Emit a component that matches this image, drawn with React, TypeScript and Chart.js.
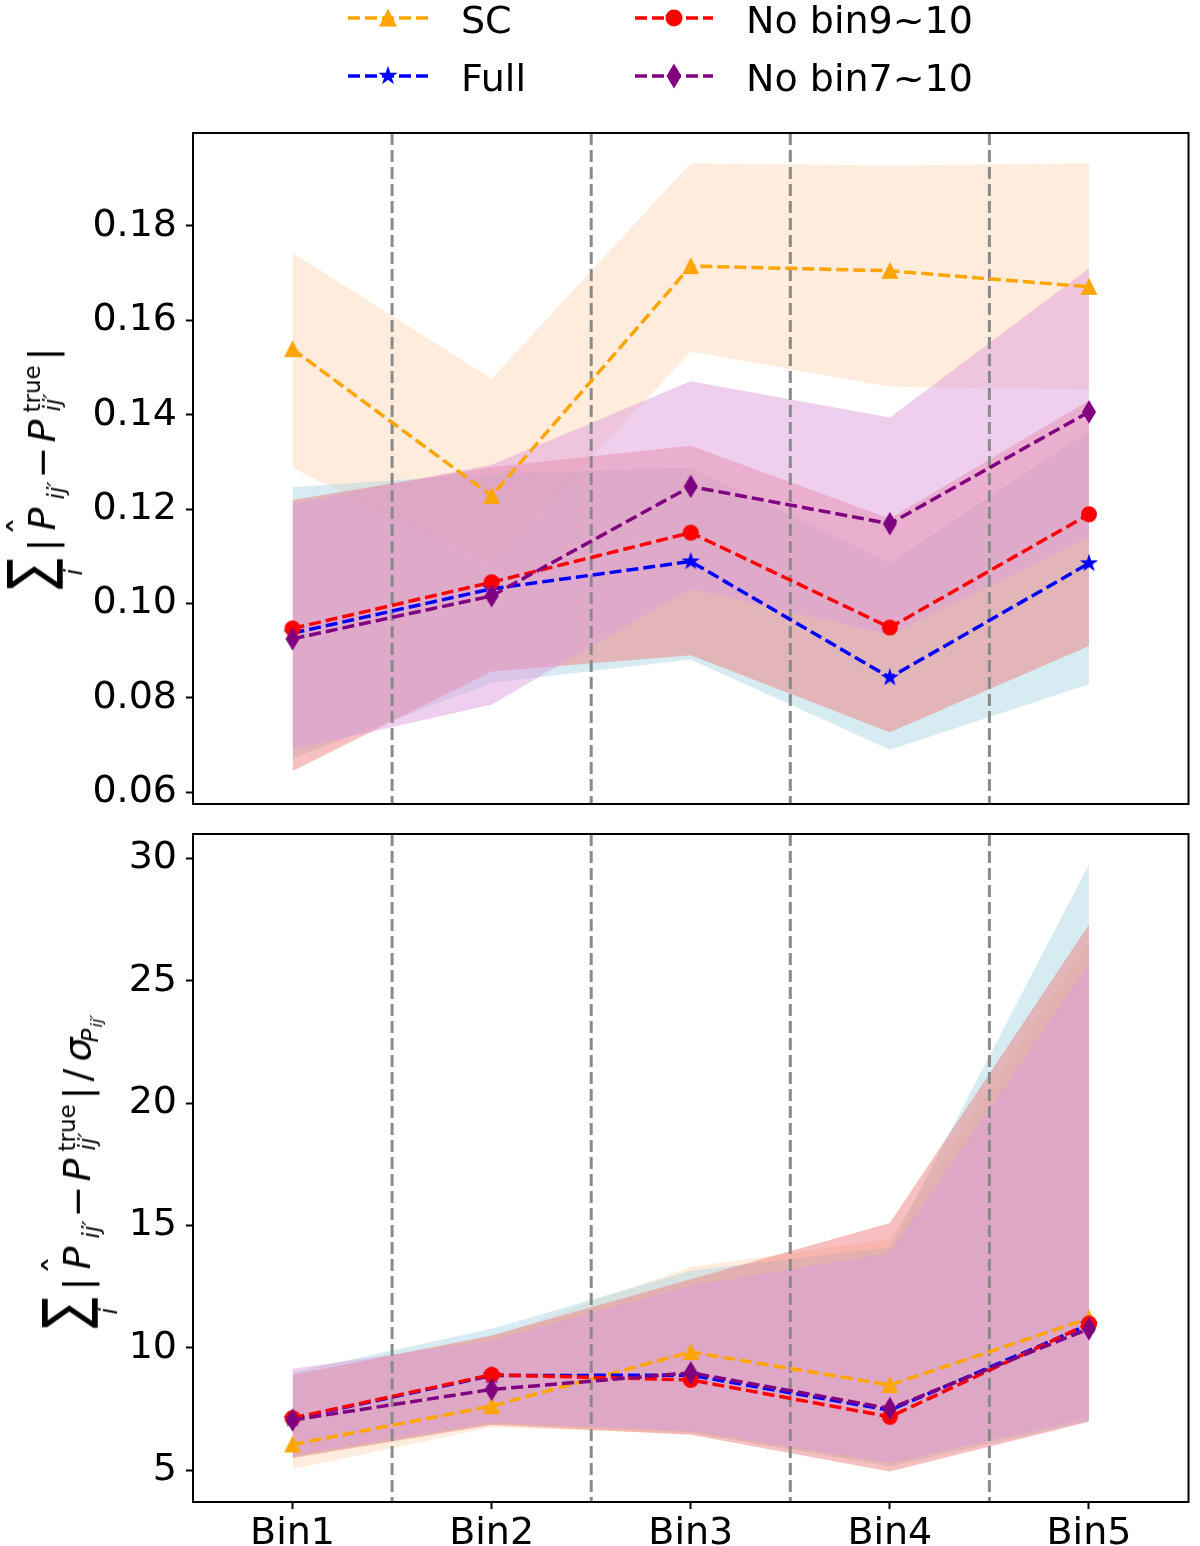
import React, { useEffect, useRef } from "react";
import { Chart, registerables } from "chart.js";

Chart.register(...registerables);

// ---------------- data ----------------
const categories = ["Bin1", "Bin2", "Bin3", "Bin4", "Bin5"];
const seriesNames = ["SC", "Full", "No bin9~10", "No bin7~10"];

// top panel: sum |P_hat - P_true|
const topSC = [0.1539, 0.1228, 0.1715, 0.1705, 0.1671];
const topSCUpper = [0.1743, 0.1476, 0.1933, 0.1928, 0.1933];
const topSCLower = [0.1287, 0.108, 0.1534, 0.1459, 0.1453];
const topFull = [0.0937, 0.1031, 0.1089, 0.0843, 0.1085];
const topFullUpper = [0.1246, 0.1275, 0.1288, 0.1086, 0.1366];
const topFullLower = [0.0672, 0.0832, 0.0881, 0.069, 0.0829];
const topNo910 = [0.0947, 0.1045, 0.115, 0.0949, 0.1189];
const topNo910Upper = [0.1219, 0.1289, 0.1334, 0.118, 0.143];
const topNo910Lower = [0.0645, 0.0856, 0.089, 0.0727, 0.091];
const topNo710 = [0.0925, 0.1016, 0.1248, 0.1169, 0.1406];
const topNo710Upper = [0.1212, 0.1294, 0.1471, 0.1394, 0.171];
const topNo710Lower = [0.069, 0.0786, 0.1031, 0.0933, 0.114];

// bottom panel: sum |P_hat - P_true| / sigma
const botSC = [6.05, 7.62, 9.83, 8.48, 11.2];
const botSCUpper = [8.9, 10.45, 13.3, 14.45, 26.6];
const botSCLower = [5.05, 6.75, 6.5, 5.25, 7.2];
const botFull = [7.1, 8.87, 8.88, 7.45, 10.95];
const botFullUpper = [9.0, 10.78, 13.15, 14.1, 29.75];
const botFullLower = [5.55, 6.9, 6.55, 5.15, 7.0];
const botNo910 = [7.13, 8.9, 8.69, 7.18, 10.99];
const botNo910Upper = [8.9, 10.5, 12.8, 15.1, 27.3];
const botNo910Lower = [5.5, 6.85, 6.45, 4.95, 6.98];
const botNo710 = [7.05, 8.3, 8.98, 7.52, 10.78];
const botNo710Upper = [9.15, 10.3, 12.55, 13.88, 25.7];
const botNo710Lower = [5.6, 6.95, 6.6, 5.3, 7.1];

const topYTicks = [0.06, 0.08, 0.1, 0.12, 0.14, 0.16, 0.18];
const botYTicks = [5, 10, 15, 20, 25, 30];
const topYMin = 0.0575;
const topYMax = 0.1997;
const botYMin = 3.7;
const botYMax = 31.0;

// ---------------- styles ----------------
const lineColors = ["orange", "blue", "red", "purple"];
const fillColors = [
  "rgba(255,218,185,0.5)",
  "rgba(173,216,230,0.5)",
  "rgba(240,128,128,0.5)",
  "rgba(221,160,221,0.5)",
];
const markerKinds = ["triangle", "star", "circle", "thinDiamond"];
const MARKER_SIZE = 14.5;
const FONT = "DejaVu Sans";

function markerPoints(kind: string, cx: number, cy: number, s: number): number[][] | null {
  if (kind === "triangle") {
    return [
      [cx, cy - s / 2],
      [cx - s / 2, cy + s / 2],
      [cx + s / 2, cy + s / 2],
    ];
  }
  if (kind === "star") {
    const pts: number[][] = [];
    const R = s / 2;
    const r = R * 0.381966;
    for (let k = 0; k < 10; k++) {
      const a = -Math.PI / 2 + (k * Math.PI) / 5;
      const rad = k % 2 ? r : R;
      pts.push([cx + rad * Math.cos(a), cy + rad * Math.sin(a)]);
    }
    return pts;
  }
  if (kind === "thinDiamond") {
    const h = s * 0.7071;
    const w = h * 0.6;
    return [
      [cx, cy - h],
      [cx + w, cy],
      [cx, cy + h],
      [cx - w, cy],
    ];
  }
  return null;
}

function makeMarker(kind: string, color: string, s: number) {
  const c = document.createElement("canvas");
  const dim = Math.ceil(s * 1.6) + 4;
  c.width = dim;
  c.height = dim;
  const ctx = c.getContext("2d")!;
  const cx = dim / 2;
  const cy = dim / 2;
  ctx.fillStyle = color;
  ctx.strokeStyle = color;
  ctx.lineWidth = 1.5;
  ctx.beginPath();
  const pts = markerPoints(kind, cx, cy, s);
  if (pts) {
    pts.forEach((p, i) => (i === 0 ? ctx.moveTo(p[0], p[1]) : ctx.lineTo(p[0], p[1])));
    ctx.closePath();
  } else {
    ctx.arc(cx, cy, s / 2, 0, Math.PI * 2);
  }
  ctx.fill();
  ctx.stroke();
  return c;
}

function buildDatasets(lines: number[][], uppers: number[][], lowers: number[][], markers: HTMLCanvasElement[]) {
  const ds: any[] = [];
  for (let i = 0; i < 4; i++) {
    ds.push({
      data: lowers[i],
      borderWidth: 0,
      borderColor: "rgba(0,0,0,0)",
      pointRadius: 0,
      fill: false,
      tension: 0,
      order: 10 - i,
    });
    ds.push({
      data: uppers[i],
      borderWidth: 0,
      borderColor: "rgba(0,0,0,0)",
      backgroundColor: fillColors[i],
      pointRadius: 0,
      fill: "-1",
      tension: 0,
      order: 10 - i,
    });
  }
  for (let i = 0; i < 4; i++) {
    ds.push({
      label: seriesNames[i],
      data: lines[i],
      borderColor: lineColors[i],
      backgroundColor: lineColors[i],
      borderWidth: 3.5,
      borderDash: [12, 5],
      pointStyle: markers[i],
      pointRadius: 8,
      fill: false,
      tension: 0,
      order: 3 - i,
    });
  }
  return ds;
}

const framePlugin = {
  id: "frame",
  afterDatasetsDraw(chart: any) {
    const { ctx, chartArea } = chart;
    ctx.save();
    ctx.strokeStyle = "#000";
    ctx.lineWidth = 2;
    ctx.setLineDash([]);
    ctx.strokeRect(chartArea.left, chartArea.top, chartArea.right - chartArea.left, chartArea.bottom - chartArea.top);
    ctx.restore();
  },
};

const vlinePlugin = {
  id: "vlines",
  beforeDatasetDraw(chart: any, args: any) {
    if (args.index !== 8) return;
    const { ctx, chartArea } = chart;
    const xs = chart.scales.x;
    ctx.save();
    ctx.strokeStyle = "#8a8a8a";
    ctx.lineWidth = 3;
    ctx.setLineDash([12, 5]);
    for (let i = 0; i < categories.length - 1; i++) {
      const px = xs.getPixelForValue(i + 0.5);
      ctx.beginPath();
      ctx.moveTo(px, chartArea.top);
      ctx.lineTo(px, chartArea.bottom);
      ctx.stroke();
    }
    ctx.restore();
  },
};

function makeOptions(opts: {
  showX: boolean;
  yMin: number;
  yMax: number;
  yTicks: number[];
  fmt: (v: number) => string;
  padding: any;
}) {
  const tickFont = { family: FONT, size: 38 };
  return {
    animation: false,
    responsive: false,
    devicePixelRatio: 1,
    events: [],
    layout: { padding: opts.padding },
    plugins: {
      legend: { display: false },
      tooltip: { enabled: false },
      filler: { propagate: false },
    },
    scales: {
      x: {
        type: "category",
        offset: true,
        display: opts.showX,
        grid: {
          display: true,
          drawOnChartArea: false,
          drawTicks: true,
          tickLength: 7,
          tickWidth: 2,
          tickColor: "#000",
          offset: false,
        },
        border: { display: false },
        ticks: { font: tickFont, color: "#000", padding: 2, maxRotation: 0, autoSkip: false },
        afterFit: (a: any) => {
          if (opts.showX) a.height = 44;
          a.paddingLeft = 0;
          a.paddingRight = 0;
        },
      },
      y: {
        type: "linear",
        min: opts.yMin,
        max: opts.yMax,
        afterBuildTicks: (a: any) => {
          a.ticks = opts.yTicks.map((v) => ({ value: v }));
        },
        afterFit: (a: any) => {
          a.width = 193;
          a.paddingTop = 0;
          a.paddingBottom = 0;
        },
        grid: {
          display: true,
          drawOnChartArea: false,
          drawTicks: true,
          tickLength: 7,
          tickWidth: 2,
          tickColor: "#000",
        },
        border: { display: false },
        ticks: {
          font: tickFont,
          color: "#000",
          padding: 9,
          callback: (v: any) => opts.fmt(Number(v)),
        },
      },
    },
  } as any;
}

// ---------------- axis label (math) ----------------
type Piece = { t: string; u: number; dv: number; fs: number; it?: boolean; sy?: number };

const mainPieces: Piece[] = [
  { t: "∑", u: 2, dv: -4, fs: 46, sy: 1.34 },
  { t: "i", u: 16, dv: 27, fs: 24, it: true },
  { t: "|", u: 40, dv: 0, fs: 38 },
  { t: "ˆ", u: 56, dv: -19, fs: 38 },
  { t: "P", u: 61, dv: 0, fs: 38, it: true },
  { t: "ij′", u: 92, dv: 9, fs: 23, it: true },
  { t: "−", u: 113, dv: 0, fs: 38 },
  { t: "P", u: 149, dv: 0, fs: 38, it: true },
  { t: "true", u: 179, dv: -15, fs: 23 },
  { t: "ij′", u: 180, dv: 5, fs: 23, it: true },
  { t: "|", u: 231, dv: 0, fs: 38 },
];

const sigmaPieces: Piece[] = [
  { t: "/", u: 249, dv: 0, fs: 38 },
  { t: "σ", u: 269, dv: 0, fs: 38, it: true },
  { t: "P", u: 288, dv: 8, fs: 23, it: true },
  { t: "ij′", u: 303, dv: 13, fs: 16, it: true },
];

const BASE_V = 55;
const LABEL_H = 90;

function MathLabel({ pieces, width, cx, cy }: { pieces: Piece[]; width: number; cx: number; cy: number }) {
  return (
    <div
      style={{
        position: "absolute",
        left: cx,
        top: cy,
        width,
        height: LABEL_H,
        transform: "translate(-50%, -50%) rotate(-90deg)",
        fontFamily: FONT,
        color: "#000",
      }}
    >
      {pieces.map((p, k) => (
        <span
          key={k}
          style={{
            position: "absolute",
            left: p.u,
            top: BASE_V + p.dv - 0.846 * p.fs,
            fontSize: p.fs,
            lineHeight: `${p.fs}px`,
            fontStyle: p.it ? "italic" : "normal",
            whiteSpace: "nowrap",
            display: "inline-block",
            transform: p.sy ? `scaleY(${p.sy})` : undefined,
            transformOrigin: `50% ${0.846 * p.fs}px`,
          }}
        >
          {p.t}
        </span>
      ))}
    </div>
  );
}

const legendItems = [
  { i: 0, x0: 348, x1: 428, y: 18, tx: 461 },
  { i: 1, x0: 348, x1: 428, y: 76, tx: 461 },
  { i: 2, x0: 635, x1: 713, y: 18, tx: 746 },
  { i: 3, x0: 635, x1: 713, y: 76, tx: 746 },
];

function LegendMarker({ kind, color, cx, cy }: { kind: string; color: string; cx: number; cy: number }) {
  const pts = markerPoints(kind, cx, cy, MARKER_SIZE + 1);
  if (!pts) return <circle cx={cx} cy={cy} r={(MARKER_SIZE + 1) / 2} fill={color} stroke={color} strokeWidth={1.5} />;
  return <polygon points={pts.map((p) => p.join(",")).join(" ")} fill={color} stroke={color} strokeWidth={1.5} />;
}

export default function App() {
  const topRef = useRef<HTMLCanvasElement>(null);
  const botRef = useRef<HTMLCanvasElement>(null);

  useEffect(() => {
    const markers = markerKinds.map((k, i) => makeMarker(k, lineColors[i], MARKER_SIZE));
    const topChart = new Chart(topRef.current!, {
      type: "line",
      data: {
        labels: categories,
        datasets: buildDatasets(
          [topSC, topFull, topNo910, topNo710],
          [topSCUpper, topFullUpper, topNo910Upper, topNo710Upper],
          [topSCLower, topFullLower, topNo910Lower, topNo710Lower],
          markers
        ),
      },
      options: makeOptions({
        showX: false,
        yMin: topYMin,
        yMax: topYMax,
        yTicks: topYTicks,
        fmt: (v) => v.toFixed(2),
        padding: { top: 40, right: 10, bottom: 40, left: 0 },
      }),
      plugins: [vlinePlugin, framePlugin],
    });
    const botChart = new Chart(botRef.current!, {
      type: "line",
      data: {
        labels: categories,
        datasets: buildDatasets(
          [botSC, botFull, botNo910, botNo710],
          [botSCUpper, botFullUpper, botNo910Upper, botNo710Upper],
          [botSCLower, botFullLower, botNo910Lower, botNo710Lower],
          markers
        ),
      },
      options: makeOptions({
        showX: true,
        yMin: botYMin,
        yMax: botYMax,
        yTicks: botYTicks,
        fmt: (v) => String(v),
        padding: { top: 40, right: 10, bottom: 0, left: 0 },
      }),
      plugins: [vlinePlugin, framePlugin],
    });
    return () => {
      topChart.destroy();
      botChart.destroy();
    };
  }, []);

  return (
    <div
      style={{
        position: "absolute",
        left: 0,
        top: 0,
        width: 1200,
        height: 1546,
        overflow: "hidden",
        background: "#fff",
        fontFamily: FONT,
      }}
    >
      <canvas
        ref={topRef}
        width={1200}
        height={751}
        style={{ position: "absolute", left: 0, top: 93, width: 1200, height: 751 }}
      />
      <canvas
        ref={botRef}
        width={1200}
        height={752}
        style={{ position: "absolute", left: 0, top: 794, width: 1200, height: 752 }}
      />

      <svg width={1200} height={100} style={{ position: "absolute", left: 0, top: 0 }}>
        {legendItems.map((it) => (
          <g key={it.i}>
            <line
              x1={it.x0}
              x2={it.x1}
              y1={it.y}
              y2={it.y}
              stroke={lineColors[it.i]}
              strokeWidth={3.5}
              strokeDasharray="12 5"
            />
            <LegendMarker kind={markerKinds[it.i]} color={lineColors[it.i]} cx={(it.x0 + it.x1) / 2} cy={it.y} />
          </g>
        ))}
      </svg>
      {legendItems.map((it) => (
        <span
          key={"t" + it.i}
          style={{
            position: "absolute",
            left: it.tx,
            top: it.y - 20,
            fontSize: 38,
            lineHeight: "44px",
            whiteSpace: "nowrap",
            color: "#000",
          }}
        >
          {seriesNames[it.i]}
        </span>
      ))}

      <MathLabel pieces={mainPieces} width={245} cx={45} cy={468.5} />
      <MathLabel pieces={[...mainPieces, ...sigmaPieces]} width={325} cx={80} cy={1167.5} />
    </div>
  );
}
